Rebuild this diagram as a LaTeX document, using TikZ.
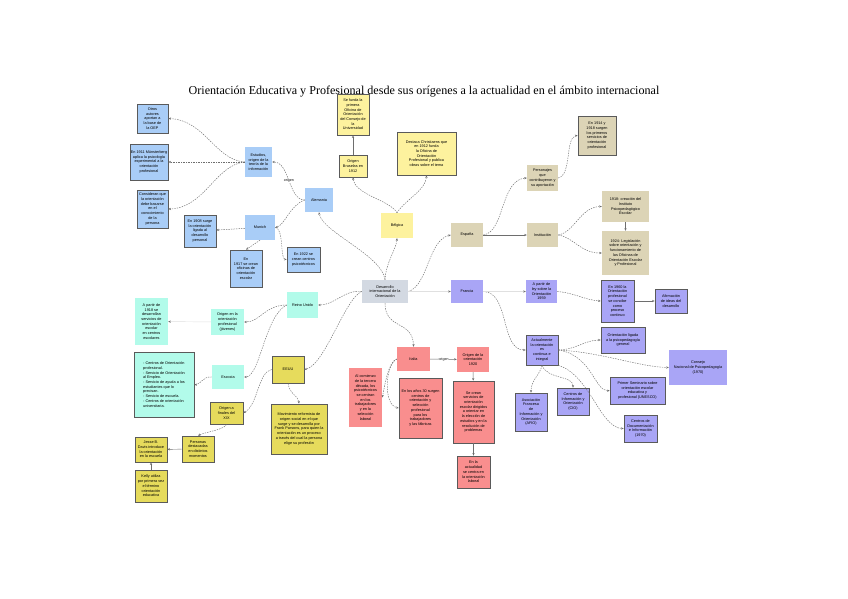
\documentclass[tikz,border=0pt]{standalone}
\usepackage{fontspec}
\setmainfont{Liberation Serif}
\setsansfont{Liberation Sans}
\usepackage{xcolor}
\definecolor{cCore}{HTML}{D3D9E2}
\definecolor{cBlue}{HTML}{A9CDF7}
\definecolor{cYellow}{HTML}{FDF29E}
\definecolor{cGold}{HTML}{E6DB5C}
\definecolor{cTan}{HTML}{DCD4B6}
\definecolor{cMint}{HTML}{B2FBEA}
\definecolor{cRed}{HTML}{F98E8E}
\definecolor{cPurple}{HTML}{A9A5F6}
\definecolor{cEdge}{HTML}{6E6E6E}
\definecolor{cFrame}{HTML}{5A5A5A}
\usepackage{tikz}
\usetikzlibrary{positioning,arrows.meta}
\tikzset{
  node-box/.style={rectangle,align=center,inner sep=0.8pt,
    font=\sffamily\fontsize{3.8}{4.7}\selectfont},
  node-leaf/.style={node-box,draw=cFrame,line width=0.7pt},
  box-size/.style 2 args={minimum width=#1,minimum height=#2},
  arrow/.style={-{Stealth[length=2.6pt,width=2.2pt]},line width=0.45pt,draw=cEdge},
  arrow-dash/.style={arrow,dash pattern=on 1.4pt off 1.1pt},
  arrow-faint/.style={arrow,draw=black!12,-{Stealth[length=2.6pt,width=2.2pt,color=cEdge]}},
  edge-label/.style={fill=white,inner sep=0.4pt,font=\sffamily\fontsize{3.6}{4}\selectfont},
}

\begin{document}
\begin{tikzpicture}[x=1pt,y=-1pt]
  \useasboundingbox[fill=white] (0,0) rectangle (848,599);
  \node[font=\fontsize{12.1}{14}\selectfont] (title) at (424,92)
    {Orientación Educativa y Profesional desde sus orígenes a la actualidad en el ámbito internacional};

  % centro
  \node[node-box,fill=cCore,box-size={46}{23}] (core) at (385,291.5)
    {Desarrollo\\internacional de la\\Orientación};

  % Alemania
  \node[node-box,fill=cBlue,box-size={28}{24}] (alemania) at (319,200) {Alemania};
  \node[node-box,fill=cBlue,box-size={27}{30}] (estudios) at (258.5,162)
    {Estudios,\\origen de la\\teoría de la\\información};
  \node[node-box,fill=cBlue,box-size={30}{25}] (munich) at (260,227.5) {Munich};
  \node[node-leaf,fill=cBlue,box-size={31}{29}] (otros) at (152.5,118.5)
    {Otros\\autores\\aportan a\\la base de\\la OEP};
  \node[node-leaf,fill=cBlue,box-size={38}{36}] (n1911) at (149,162)
    {En 1911 Münsterberg\\aplica la psicología\\experimental a la\\orientación\\profesional};
  \node[node-leaf,fill=cBlue,box-size={31}{38}] (third) at (152.5,209)
    {Consideran que\\la orientación\\debe basarse\\en el\\conocimiento\\de la\\persona};
  \node[node-leaf,fill=cBlue,box-size={32}{32}] (en1908) at (200,231)
    {En 1908 surge\\la orientación\\ligada al\\desarrollo\\personal};
  \node[node-leaf,fill=cBlue,box-size={32}{37}] (ena) at (246,268.5)
    {En\\1917 se crean\\oficinas de\\orientación\\escolar};
  \node[node-leaf,fill=cBlue,box-size={33}{25}] (enb) at (303.5,259.5)
    {En 1922 se\\crean centros\\psicotécnicos};

  % Bélgica
  \node[node-box,fill=cYellow,box-size={32}{25}] (belgica) at (397,225.5) {Bélgica};
  \node[node-leaf,fill=cYellow,box-size={28}{22}] (origen1912) at (353,166)
    {Origen\\Bruselas en\\1912};
  \node[node-leaf,fill=cYellow,box-size={32}{41}] (primer) at (353,114.5)
    {Se funda la\\primera\\Oficina de\\Orientación\\del Consejo de\\la\\Universidad};
  \node[node-leaf,fill=cYellow,box-size={59}{43}] (destaca) at (426.5,153.5)
    {Destaca Christiaens que\\en 1912 funda\\la Oficina de\\Orientación\\Profesional y publica\\obras sobre el tema};

  % España
  \node[node-box,fill=cTan,box-size={32}{24}] (espana) at (467,235) {España};
  \node[node-box,fill=cTan,box-size={31}{26}] (personajes) at (542.5,178)
    {Personajes\\que\\contribuyeron y\\su aportación};
  \node[node-box,fill=cTan,box-size={31}{24}] (institucion) at (542.5,235) {Institución};
  \node[node-leaf,fill=cTan,box-size={38}{39}] (la) at (597,135.5)
    {En 1914 y\\1918 surgen\\los primeros\\servicios de\\orientación\\profesional};
  \node[node-box,fill=cTan,box-size={47}{31}] (n1918) at (625.5,206.5)
    {1918: creación del\\Instituto\\Psicopedagógico\\Escolar};
  \node[node-box,fill=cTan,box-size={47}{44}] (legis) at (625.5,253)
    {1924: Legislación\\sobre orientación y\\funcionamiento de\\las Oficinas de\\Orientación Escolar\\y Profesional};

  % Francia
  \node[node-box,fill=cPurple,box-size={32}{23}] (francia) at (467,291.5) {Francia};
  \node[node-box,fill=cPurple,box-size={31}{23}] (apartirp) at (541.5,291.5)
    {A partir de\\ley sobre la\\Orientación\\1959};
  \node[node-leaf,fill=cPurple,box-size={33}{42}] (n1960) at (617.5,301)
    {En 1960 la\\Orientación\\profesional\\se concibe\\como\\proceso\\continuo};
  \node[node-leaf,fill=cPurple,box-size={32}{24}] (afirm) at (671,301)
    {Afirmación\\de ideas del\\desarrollo};
  \node[node-leaf,fill=cPurple,box-size={32}{30}] (actual) at (542,350)
    {Actualmente\\la orientación\\es\\continua e\\integral};
  \node[node-leaf,fill=cPurple,box-size={44}{26}] (orped) at (623,340)
    {Orientación ligada\\a la psicopedagogía\\general};
  \node[node-box,fill=cPurple,box-size={58}{35}] (aiosp) at (698,367.5)
    {Consejo\\Nacional de Psicopedagogía\\(1970)};
  \node[node-leaf,fill=cPurple,box-size={55}{27}] (unesco) at (637.5,390.5)
    {Primer Seminario sobre\\orientación escolar\\educativa y\\profesional (UNESCO)};
  \node[node-leaf,fill=cPurple,box-size={33}{27}] (centrosdoc) at (640.5,428.5)
    {Centros de\\Documentación\\e Información\\(1970)};
  \node[node-leaf,fill=cPurple,box-size={32}{27}] (cio) at (573,401.5)
    {Centros de\\Información y\\Orientación\\(CIO)};
  \node[node-leaf,fill=cPurple,box-size={32}{38}] (asoc) at (531,412)
    {Asociación\\Francesa\\de\\Información y\\Orientación\\(AFIO)};

  % Italia
  \node[node-box,fill=cRed,box-size={33}{24}] (italia) at (413.5,359) {Italia};
  \node[node-box,fill=cRed,box-size={32}{25}] (origenit) at (473,359.5)
    {Origen de la\\orientación\\1920};
  \node[node-box,fill=cRed,box-size={33}{59}] (redleft) at (365.5,397.5)
    {Al comienzo\\de la tercera\\década, los\\psicotécnicos\\se centran\\en los\\trabajadores\\y en la\\selección\\laboral};
  \node[node-leaf,fill=cRed,box-size={43}{60}] (redmid) at (420.5,408)
    {En los años 30 surgen\\centros de\\orientación y\\selección\\profesional\\para los\\trabajadores\\y las fábricas};
  \node[node-leaf,fill=cRed,box-size={41}{62}] (redbig) at (473.5,412)
    {Se crean\\servicios de\\orientación\\escolar dirigidos\\a orientar en\\la elección de\\estudios y en la\\resolución de\\problemas};
  \node[node-leaf,fill=cRed,box-size={33}{32}] (redbot) at (473.5,472)
    {En la\\actualidad\\se centra en\\la orientación\\laboral};

  % EEUU
  \node[node-leaf,fill=cGold,box-size={32}{27}] (eeuu) at (288,369.5) {EEUU};
  \node[node-leaf,fill=cGold,box-size={33}{22}] (origena) at (226.5,413)
    {Origen a\\finales del\\XIX};
  \node[node-leaf,fill=cGold,box-size={56}{50}] (movimiento) at (299,429)
    {Movimiento reformista de\\origen social en el que\\surge y se desarrolla por\\Frank Parsons, para quien la\\orientación es un proceso\\a través del cual la persona\\elige su profesión};
  \node[node-leaf,fill=cGold,box-size={32}{26}] (personas) at (198,449)
    {Personas\\destacadas\\en distintos\\momentos};
  \node[node-leaf,fill=cGold,box-size={32}{25}] (jesse) at (151,449.5)
    {Jesse B.\\Davis introduce\\la orientación\\en la escuela};
  \node[node-leaf,fill=cGold,box-size={32}{32}] (below) at (151,486)
    {Kelly utiliza\\por primera vez\\el término\\orientación\\educativa};

  % Reino Unido
  \node[node-box,fill=cMint,box-size={31}{26}] (reino) at (302.5,305) {Reino Unido};
  \node[node-box,fill=cMint,box-size={33}{26}] (origenj) at (227.5,322)
    {Origen en la\\orientación\\profesional\\(jóvenes)};
  \node[node-box,fill=cMint,box-size={33}{47}] (apartir) at (151.5,321.5)
    {A partir de\\1918 se\\desarrollan\\servicios de\\orientación\\escolar\\en centros\\escolares};
  \node[node-box,fill=cMint,box-size={32}{24}] (escocia) at (228,377) {Escocia};
  \node[node-leaf,fill=cMint,box-size={60}{65},align=left] (centros) at (164,384.5)
    {- Centros de Orientación\\profesional.\\- Servicio de Orientación\\al Empleo.\\- Servicio de ayuda a los\\estudiantes que lo\\precisan.\\- Servicio de escuela.\\- Centros de orientación\\universitaria.};

  % conexiones
  \draw[arrow-dash] (core.north) .. controls (382,255) and (322,232) .. (alemania.south);
  \draw[arrow-dash] (core.north) .. controls (386,262) and (396,250) .. (belgica.south);
  \draw[arrow-dash] (core.east) .. controls (428,286) and (428,240) .. (espana.west);
  \draw[arrow-faint] (core) -- (francia);
  \draw[arrow-dash] (core.west) .. controls (345,289) and (335,305) .. (reino.east);
  \draw[arrow-dash] (core.west) .. controls (345,298) and (325,365) .. (eeuu.east);
  \draw[arrow-dash] (core.south) .. controls (385,330) and (413,320) .. (italia.north);

  \draw[arrow-dash] (alemania.west) .. controls (288,200) and (290,162) ..
    node[edge-label]{origen} (estudios.east);
  \draw[arrow-dash] (alemania.west) .. controls (290,205) and (285,225) .. (munich.east);
  \draw[arrow-dash] (estudios.west) .. controls (215,160) and (205,120) .. (otros.east);
  \draw[arrow-dash] (estudios.west) -- (n1911.east);
  \draw[arrow-dash] (estudios.west) .. controls (215,165) and (205,208) .. (third.east);
  \draw[arrow-dash] (munich) -- (en1908);
  \draw[arrow-dash] (munich.south) -- (ena.north);
  \draw[arrow-dash] (munich.east) .. controls (284,228) and (280,259) .. (enb.west);

  \draw[arrow-dash] (belgica.north) .. controls (390,200) and (355,195) .. (origen1912.south);
  \draw[arrow-dash] (belgica.north) .. controls (405,200) and (426,190) .. (destaca.south);
  \draw[arrow] (origen1912) -- (primer);

  \draw[arrow-dash] (espana.east) .. controls (505,232) and (500,180) .. (personajes.west);
  \draw[arrow] (espana) -- (institucion);
  \draw[arrow-dash] (personajes.east) .. controls (572,175) and (565,137) .. (la.west);
  \draw[arrow-dash] (institucion.east) .. controls (575,232) and (580,207) .. (n1918.west);
  \draw[arrow-dash] (institucion.east) .. controls (575,238) and (580,253) .. (legis.west);
  \draw[arrow] (n1918) -- (legis);

  \draw[arrow-dash] (francia.east) .. controls (510,292) and (500,350) .. (actual.west);
  \draw[arrow-faint] (francia) -- (apartirp);
  \draw[arrow-dash] (apartirp.east) .. controls (575,293) and (585,300) .. (n1960.west);
  \draw[arrow] (n1960) -- (afirm);
  \draw[arrow-dash] (actual.east) .. controls (575,350) and (585,340) .. (orped.west);
  \draw[arrow-dash] (actual.east) .. controls (600,352) and (640,367) .. (aiosp.west);
  \draw[arrow-dash] (actual.east) .. controls (592,355) and (595,392) .. (unesco.west);
  \draw[arrow-dash] (actual.south east) .. controls (590,375) and (600,428) .. (centrosdoc.west);
  \draw[arrow-dash] (actual.south) .. controls (548,380) and (573,375) .. (cio.north);
  \draw[arrow-dash] (actual.south) .. controls (540,375) and (531,380) .. (asoc.north);

  \draw[arrow] (italia) -- node[edge-label]{origen} (origenit);
  \draw[arrow-dash] (italia.west) .. controls (388,362) and (385,385) .. (redleft.east);
  \draw[arrow-dash] (italia.west) .. controls (385,365) and (383,405) .. (redmid.west);
  \draw[arrow] (origenit) -- (redbig);
  \draw[arrow] (redbig) -- (redbot);

  \draw[arrow-dash] (eeuu.west) .. controls (258,372) and (258,405) .. (origena.east);
  \draw[arrow-dash] (eeuu.south) .. controls (290,395) and (298,395) .. (movimiento.north);
  \draw[arrow-dash] (origena.south) .. controls (224,430) and (205,432) .. (personas.north);
  \draw[arrow] (personas) -- (jesse);
  \draw[arrow] (below) -- (jesse);

  \draw[arrow-dash] (reino.west) .. controls (265,305) and (260,322) .. (origenj.east);
  \draw[arrow-faint] (origenj) -- (apartir);
  \draw[arrow-dash] (reino.west) .. controls (265,315) and (260,377) .. (escocia.east);
  \draw[arrow-dash] (escocia.west) .. controls (203,376) and (200,385) .. (centros.east);
\end{tikzpicture}
\end{document}
